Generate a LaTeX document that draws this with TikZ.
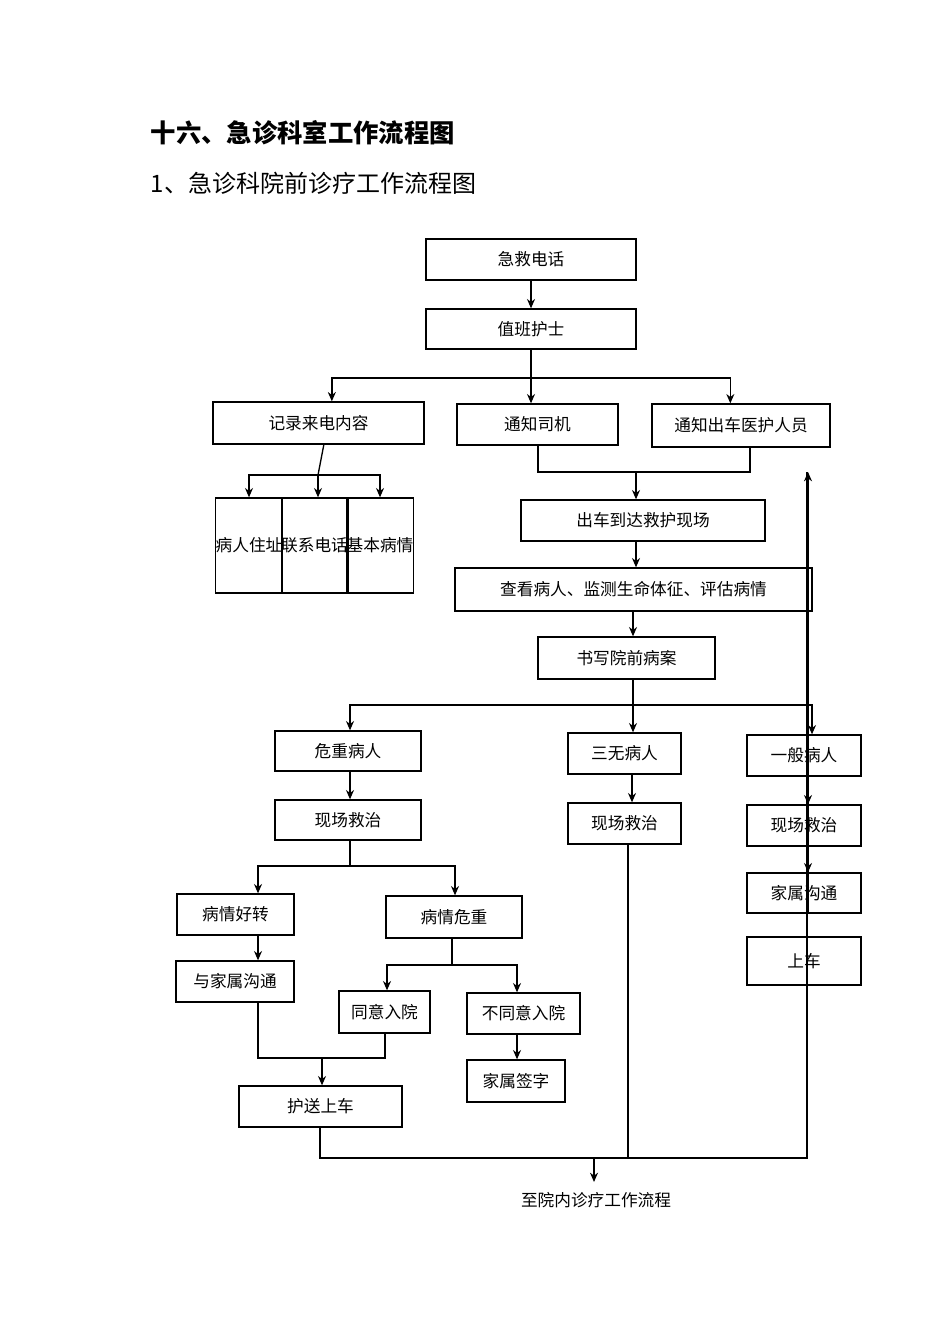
\documentclass[tikz,border=0pt]{standalone}
\usepackage{fontspec}
\setmainfont{Liberation Serif}
\newfontfamily\cjk{Noto Sans CJK SC}
\usetikzlibrary{arrows.meta}
\begin{document}
\begin{tikzpicture}[x=0.75pt,y=-0.75pt,
  box/.style={draw,line width=1pt,inner sep=0pt,font=\cjk\fontsize{12.5}{15}\selectfont},
  ln/.style={line width=1pt},
  arr/.style={line width=1pt,-{Stealth[length=7pt,width=6pt]}}]
\useasboundingbox (0,0) rectangle (950,1344);
\newcommand\bx[6]{\node[box,minimum width={(#3-#2)*0.75pt},minimum height={(#5-#4)*0.75pt}] (#1) at ({(#2+#3)/2},{(#4+#5)/2}) {#6};}
\node[anchor=west,font=\cjk\fontsize{19}{22}\selectfont\bfseries] (t1) at (146,133) {十六、急诊科室工作流程图};
\node[anchor=west,font=\cjk\fontsize{18}{22}\selectfont] (t2) at (146,183) {1、急诊科院前诊疗工作流程图};
\bx{a}{426}{636}{239}{280}{急救电话}
\bx{b}{426}{636}{309}{349}{值班护士}
\bx{c1}{213}{424}{402}{444}{记录来电内容}
\bx{c2}{457}{618}{404}{445}{通知司机}
\bx{c3}{652}{830}{404}{447}{通知出车医护人员}
\bx{s1}{228}{270}{498}{593}{病\\人\\住\\址}
\bx{s2}{294}{335}{498}{593}{联\\系\\电\\话}
\bx{s3}{359}{401}{498}{593}{基\\本\\病\\情}
\foreach \n in {s1,s2,s3}{\node[box,align=center,draw=none,font=\cjk\fontsize{12.5}{15.5}\selectfont] at (\n) {};}
\bx{d}{521}{765}{500}{541}{出车到达救护现场}
\bx{e}{455}{812}{568}{611}{查看病人、监测生命体征、评估病情}
\bx{f}{538}{715}{637}{679}{书写院前病案}
\bx{g1}{275}{421}{731}{771}{危重病人}
\bx{g2}{568}{681}{733}{774}{三无病人}
\bx{g3}{747}{861}{735}{776}{一般病人}
\bx{h1}{275}{421}{800}{840}{现场救治}
\bx{h2}{568}{681}{803}{844}{现场救治}
\bx{h3}{747}{861}{805}{846}{现场救治}
\bx{i3}{747}{861}{873}{913}{家属沟通}
\bx{j3}{747}{861}{937}{985}{上车}
\bx{k1}{177}{294}{894}{935}{病情好转}
\bx{k2}{386}{522}{896}{938}{病情危重}
\bx{l1}{176}{294}{961}{1002}{与家属沟通}
\bx{m1}{339}{430}{991}{1033}{同意入院}
\bx{m2}{467}{580}{993}{1034}{不同意入院}
\bx{n2}{467}{565}{1060}{1102}{家属签字}
\bx{p}{239}{402}{1086}{1127}{护送上车}
\node[font=\cjk\fontsize{12.5}{15}\selectfont] (end) at (596,1200) {至院内诊疗工作流程};
% connectors
\draw[arr] (a.south) -- (b.north);
\coordinate (j1) at (531,378);
\draw[ln] (b.south) -- (j1);
\draw[arr] (j1) -- (c2.north-|j1);
\draw[arr] (j1) -| ([xshift=10pt]c1.north);
\draw[arr] (j1) -| ([xshift=-8pt]c3.north);
\coordinate (j2) at (318,475);
\draw[ln] ([xshift=4pt]c1.south) -- (j2);
\draw[arr] (j2) -| (s1.north);
\draw[arr] (j2) -- (j2|-s2.north);
\draw[arr] (j2) -| (s3.north);
\coordinate (j3) at (636,472);
\draw[ln] (c2.south-|538,0) |- (j3) -| (c3.south-|750,0);
\draw[arr] (j3) -- (d.north-|j3);
\draw[arr] (d.south-|636,0) -- (e.north-|636,0);
\draw[arr] (e.south-|633,0) -- (f.north-|633,0);
\coordinate (j4) at (633,705);
\draw[ln] (f.south-|j4) -- (j4);
\draw[arr] (j4) -- (g2.north-|j4);
\draw[arr] (j4) -| (g1.north-|350,0);
\draw[arr] (j4) -| (g3.north-|812,0);
\draw[arr] (g1.south-|350,0) -- (h1.north-|350,0);
\draw[arr] (g2.south-|632,0) -- (h2.north-|632,0);
\draw[arr] (g3.south-|808,0) -- (h3.north-|808,0);
\draw[arr] (h3.south-|808,0) -- (i3.north-|808,0);
\draw[arr] (i3.south-|808,0) -- (j3.north-|808,0);
\coordinate (j5) at (350,866);
\draw[ln] (h1.south-|j5) -- (j5);
\draw[arr] (j5) -| (k1.north-|258,0);
\draw[arr] (j5) -| (k2.north-|455,0);
\draw[arr] (k1.south-|258,0) -- (l1.north-|258,0);
\coordinate (j6) at (452,965);
\draw[ln] (k2.south-|j6) -- (j6);
\draw[arr] (j6) -| (m1.north-|387,0);
\draw[arr] (j6) -| (m2.north-|517,0);
\draw[arr] (m2.south-|517,0) -- (n2.north-|517,0);
\coordinate (j7) at (322,1058);
\draw[ln] (l1.south-|258,0) |- (j7) -| (m1.south-|385,0);
\draw[arr] (j7) -- (p.north-|j7);
\coordinate (j8) at (594,1158);
\draw[ln] (p.south-|320,0) |- (j8);
\draw[ln] (h2.south-|628,0) -- (628,1158);
\draw[ln] (j3.south-|807,0) |- (j8);
\draw[arr] (j8) -- (594,1182);
\end{tikzpicture}
\end{document}
